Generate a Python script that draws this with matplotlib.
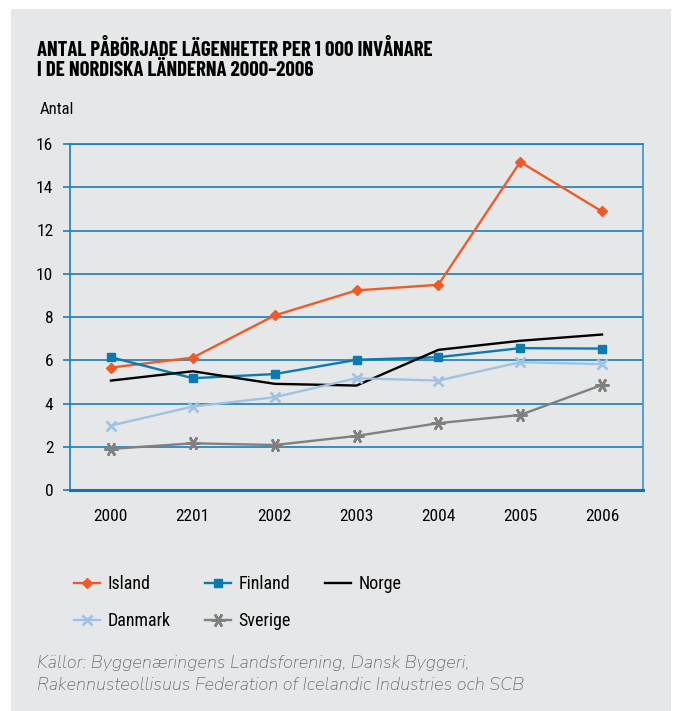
import matplotlib
matplotlib.use("Agg")
import matplotlib.pyplot as plt
from matplotlib.patches import Rectangle

years = ["2000", "2201", "2002", "2003", "2004", "2005", "2006"]
island = [5.66, 6.12, 8.07, 9.23, 9.49, 15.17, 12.88]
finland = [6.14, 5.17, 5.36, 6.02, 6.14, 6.56, 6.54]
norge = [5.06, 5.49, 4.91, 4.83, 6.48, 6.90, 7.19]
danmark = [2.98, 3.86, 4.29, 5.17, 5.06, 5.91, 5.82]
sverige = [1.90, 2.16, 2.08, 2.50, 3.09, 3.47, 4.86]
yticks = [0, 2, 4, 6, 8, 10, 12, 14, 16]

COND = ["Roboto Condensed", "DejaVu Sans"]
TITLE = ["Barlow Condensed", "Roboto Condensed", "DejaVu Sans"]
FOOT = ["Nunito Sans", "Open Sans", "DejaVu Sans"]

BG = "#e6e7e8"
BLUE = "#1a7fb8"

fig = plt.figure(figsize=(6.75, 7.11), dpi=100)
fig.patch.set_facecolor("white")
fig.patches.append(Rectangle((11 / 675, 0), 660 / 675, 702 / 711, transform=fig.transFigure,
                             facecolor=BG, edgecolor="none", zorder=-10))

ax = fig.add_axes([70 / 675, 1 - 490 / 711, 573 / 675, 346 / 711])
ax.set_facecolor(BG)
x = list(range(len(years)))

ax.set_ylim(0, 16)
ax.set_xlim(-0.5, len(years) - 0.5)
ax.set_yticks(yticks)
ax.set_yticklabels([str(v) for v in yticks], family=COND, fontsize=12.5)
ax.set_xticks(x)
ax.set_xticklabels(years, family=COND, fontsize=12.5)
ax.tick_params(axis="y", length=5, width=1.2, color=BLUE, pad=7)
ax.tick_params(axis="x", length=0, pad=14)
ax.yaxis.grid(True, color=BLUE, linewidth=1.2)
ax.set_axisbelow(True)
for side in ["left", "top", "right"]:
    ax.spines[side].set_color(BLUE)
    ax.spines[side].set_linewidth(1.2)
ax.spines["right"].set_color("#3a93c6")
ax.spines["bottom"].set_color("#0a78b4")
ax.spines["bottom"].set_linewidth(2.2)

lw = 1.7
l_is, = ax.plot(x, island, color="#f05a28", lw=lw, marker="D", ms=5, label="Island")
l_fi, = ax.plot(x, finland, color="#0a7ab0", lw=lw, marker="s", ms=6, label="Finland")
l_no, = ax.plot(x, norge, color="black", lw=lw, label="Norge")
l_da, = ax.plot(x, danmark, color="#9fc3e4", lw=lw, marker="x", ms=7, mew=2, label="Danmark")
l_sv, = ax.plot(x, sverige, color="#808080", lw=lw, marker=(6, 2, 90), ms=10, mew=1.8, label="Sverige")

fig.text(37 / 675, 1 - 39 / 711, "ANTAL PÅBÖRJADE LÄGENHETER PER 1 000 INVÅNARE",
         family=TITLE, fontweight="bold", fontsize=15, va="top", ha="left")
fig.text(37 / 675, 1 - 61 / 711, "I DE NORDISKA LÄNDERNA 2000–2006",
         family=TITLE, fontweight="bold", fontsize=15, va="top", ha="left")
fig.text(40 / 675, 1 - 110 / 711, "Antal", family=COND, fontsize=12, va="center", ha="left")

handles = [l_is, l_da, l_fi, l_sv, l_no]
leg = fig.legend(handles, [h.get_label() for h in handles], ncol=3, loc="upper left",
                 bbox_to_anchor=(58 / 675, 1 - 559 / 711),
                 frameon=False, prop={"family": COND, "size": 13}, handlelength=1.45,
                 handletextpad=0.4, columnspacing=1.9, labelspacing=1.05)

fig.text(37 / 675, 1 - 668 / 711, "Källor: Byggenæringens Landsforening, Dansk Byggeri,",
         family=FOOT, fontstyle="italic", fontweight=300, fontsize=13, color="#737373",
         va="baseline", ha="left")
fig.text(37 / 675, 1 - 690 / 711, "Rakennusteollisuus Federation of Icelandic Industries och SCB",
         family=FOOT, fontstyle="italic", fontweight=300, fontsize=13, color="#737373",
         va="baseline", ha="left")

fig.savefig("out.png", dpi=100, facecolor=fig.get_facecolor())
